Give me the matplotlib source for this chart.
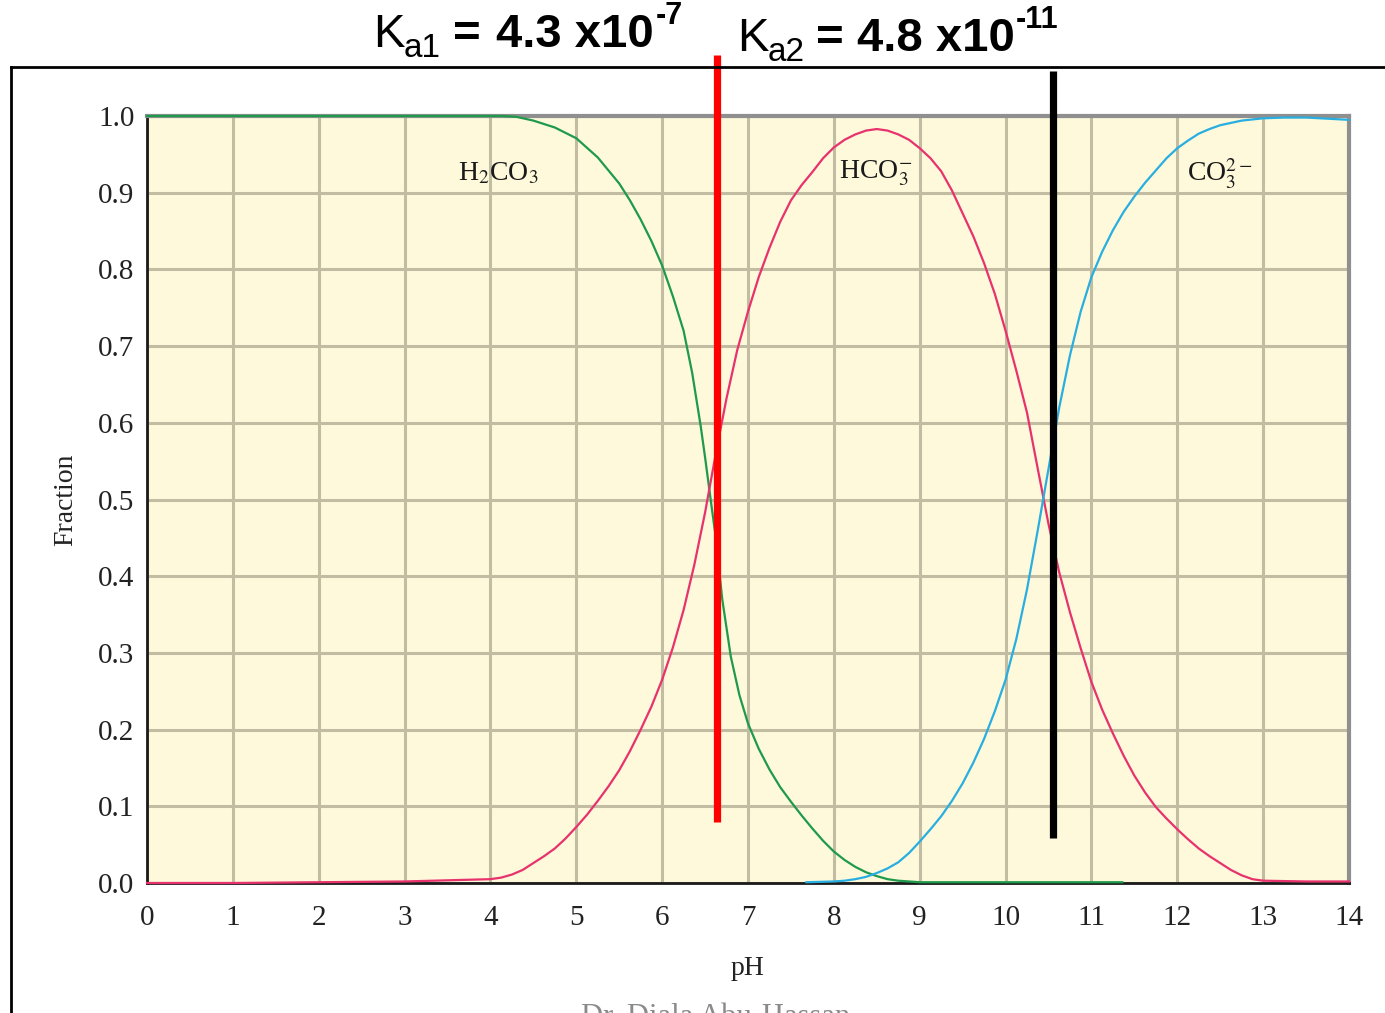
import matplotlib
matplotlib.use("Agg")
import matplotlib.pyplot as plt
from matplotlib.lines import Line2D

# ---------------- data ----------------
ph_h2co3 = [0, 4.0, 4.15, 4.3, 4.5, 4.75, 5.0, 5.25, 5.5, 5.625, 5.75, 5.875, 6.0,
            6.125, 6.25, 6.35, 6.45, 6.5, 6.565, 6.625, 6.7, 6.8, 6.9, 7.0, 7.125,
            7.25, 7.375, 7.5, 7.625, 7.75, 7.875, 8.0, 8.125, 8.25, 8.375, 8.5,
            8.625, 8.75, 9.0, 11.36]
frac_h2co3 = [1.0, 1.0, 1.0, 0.999, 0.994, 0.985, 0.971, 0.946, 0.912, 0.89, 0.865,
              0.837, 0.805, 0.765, 0.72, 0.665, 0.595, 0.555, 0.5, 0.45, 0.37,
              0.295, 0.245, 0.208, 0.175, 0.148, 0.125, 0.106, 0.088, 0.071, 0.055,
              0.041, 0.03, 0.021, 0.014, 0.009, 0.005, 0.003, 0.001, 0.001]

ph_hco3 = [0, 1, 2, 3, 4.0, 4.125, 4.25, 4.375, 4.5, 4.625, 4.75, 4.875, 5.0, 5.125,
           5.25, 5.375, 5.5, 5.625, 5.75, 5.875, 6.0, 6.125, 6.25, 6.375, 6.5,
           6.625, 6.75, 6.875, 7.0, 7.125, 7.25, 7.375, 7.5, 7.625, 7.75, 7.875,
           8.0, 8.125, 8.25, 8.375, 8.5, 8.625, 8.75, 8.875, 9.0, 9.125, 9.25,
           9.375, 9.5, 9.625, 9.75, 9.875, 10.0, 10.125, 10.25, 10.375, 10.5,
           10.625, 10.75, 10.875, 11.0, 11.125, 11.25, 11.375, 11.5, 11.625,
           11.75, 11.875, 12.0, 12.125, 12.25, 12.375, 12.5, 12.625, 12.75,
           12.875, 13.0, 13.5, 14.0]
frac_hco3 = [0.0, 0.0, 0.001, 0.002, 0.005, 0.007, 0.011, 0.017, 0.026, 0.035,
             0.045, 0.058, 0.073, 0.089, 0.107, 0.126, 0.147, 0.172, 0.2, 0.23,
             0.265, 0.307, 0.356, 0.415, 0.483, 0.56, 0.632, 0.695, 0.745, 0.79,
             0.828, 0.862, 0.89, 0.91, 0.927, 0.945, 0.959, 0.969, 0.976, 0.981,
             0.983, 0.981, 0.976, 0.969, 0.958, 0.945, 0.928, 0.903, 0.873, 0.843,
             0.808, 0.768, 0.72, 0.668, 0.613, 0.54, 0.468, 0.405, 0.353, 0.306,
             0.262, 0.226, 0.195, 0.166, 0.14, 0.118, 0.099, 0.084, 0.07, 0.057,
             0.045, 0.035, 0.026, 0.017, 0.01, 0.005, 0.003, 0.002, 0.002]

ph_co3 = [7.68, 8.0, 8.125, 8.25, 8.375, 8.5, 8.625, 8.75, 8.875, 9.0, 9.125, 9.25,
          9.375, 9.5, 9.625, 9.75, 9.875, 10.0, 10.125, 10.25, 10.375, 10.5,
          10.625, 10.75, 10.875, 11.0, 11.125, 11.25, 11.375, 11.5, 11.625, 11.75,
          11.875, 12.0, 12.125, 12.25, 12.375, 12.5, 12.75, 13.0, 13.25, 13.5, 14.0]
frac_co3 = [0.001, 0.002, 0.003, 0.005, 0.008, 0.013, 0.019, 0.027, 0.039, 0.054,
            0.07, 0.087, 0.107, 0.13, 0.157, 0.188, 0.224, 0.265, 0.318, 0.383,
            0.46, 0.54, 0.62, 0.688, 0.745, 0.79, 0.823, 0.851, 0.875, 0.895,
            0.913, 0.929, 0.945, 0.958, 0.968, 0.977, 0.983, 0.988, 0.994, 0.997,
            0.998, 0.998, 0.995]

species_labels = [r'H$_2$CO$_3$', r'HCO$_3^{-}$', r'CO$_3^{2-}$']
label_pos_ph = [4.09, 8.48, 12.5]
label_pos_frac = [0.925, 0.925, 0.925]

xticks = list(range(0, 15))
yticks = [0.0, 0.1, 0.2, 0.3, 0.4, 0.5, 0.6, 0.7, 0.8, 0.9, 1.0]
ytick_labels = ['0.0', '0.1', '0.2', '0.3', '0.4', '0.5', '0.6', '0.7', '0.8', '0.9', '1.0']

ka_symbol = ['K', 'K']
ka_subscript = ['a1', 'a2']
ka_mantissa = ['4.3 x10', '4.8 x10']
ka_exponent = ['-7', '-11']

marker_ph = [6.64, 10.55]
marker_top = [1.0795, 1.0587]
marker_bottom = [0.0795, 0.0587]
marker_colors = ['#ff0000', '#000000']

# ---------------- style ----------------
sans = ['Liberation Sans', 'DejaVu Sans']
serif = ['Liberation Serif', 'DejaVu Serif']
plt.rcParams['font.family'] = serif

W, H = 1385, 1013
fig = plt.figure(figsize=(W / 100, H / 100), dpi=100)
fig.patch.set_facecolor('white')

ax = fig.add_axes([147 / W, 1 - 883 / H, (1349 - 147) / W, (883 - 116) / H])
ax.set_facecolor('#fdf9da')
ax.set_xlim(0, 14)
ax.set_ylim(0, 1.0)

ax.set_xticks(xticks)
ax.set_xticklabels([str(t) for t in xticks])
ax.set_yticks(yticks)
ax.set_yticklabels(ytick_labels)
ax.tick_params(axis='both', length=0, labelsize=21, labelcolor='#222222')
ax.tick_params(axis='x', pad=16)
ax.tick_params(axis='y', pad=9)
ax.grid(True, color='#c2bca3', linewidth=2.2)
ax.set_axisbelow(True)

for s in ['left', 'bottom']:
    ax.spines[s].set_color('#1a1a1a')
    ax.spines[s].set_linewidth(2.0)
for s in ['top', 'right']:
    ax.spines[s].set_color('#8f8f8f')
    ax.spines[s].set_linewidth(3.0)

ax.plot(ph_h2co3, frac_h2co3, color='#1f9a4c', lw=1.6, clip_on=False, zorder=3)
ax.plot(ph_hco3, frac_hco3, color='#e8326e', lw=1.6, clip_on=False, zorder=3)
ax.plot(ph_co3, frac_co3, color='#28aee0', lw=1.6, clip_on=False, zorder=3)

for lab, x, y in zip(species_labels, label_pos_ph, label_pos_frac):
    ax.text(x, y, lab, fontsize=20, ha='center', va='center', color='#1a1a1a',
            math_fontfamily='stix', zorder=4)

for x, top, bot, c in zip(marker_ph, marker_top, marker_bottom, marker_colors):
    ax.plot([x, x], [bot, top], color=c, lw=5.2, solid_capstyle='butt',
            clip_on=False, zorder=5)

ax.set_xlabel('pH', fontsize=20, color='#222222', labelpad=18)
ax.set_ylabel('Fraction', fontsize=20, color='#222222', labelpad=14)

# ---------------- title pieces (pixel layout) ----------------
def ftext(px, py, s, size, weight='normal'):
    fig.text(px / W, 1 - py / H, s, fontsize=size, fontweight=weight,
             family=sans, ha='left', va='baseline', color='black')

title_x = [(373, 404, 453, 496, 656), (737, 768, 816, 857, 1016)]
title_base = [(47, 57, 24), (51, 61, 28)]
for i in range(2):
    xk, xs, xe, xm, xx = title_x[i]
    bk, bs, bx = title_base[i]
    ftext(xk, bk, ka_symbol[i], 34)
    ftext(xs, bs, ka_subscript[i], 24)
    ftext(xe, bk, '=', 34, 'bold')
    ftext(xm, bk, ka_mantissa[i], 34, 'bold')
    ftext(xx, bx, ka_exponent[i], 22, 'bold')

# slide frame
fig.add_artist(Line2D([11 / W, 1.0], [1 - 67 / H, 1 - 67 / H], color='black', lw=2.0,
                      transform=fig.transFigure))
fig.add_artist(Line2D([11 / W, 11 / W], [0, 1 - 67 / H], color='black', lw=2.0,
                      transform=fig.transFigure))

# footer (partly cut off, as on the slide)
fig.text(716 / W, -0.012, 'Dr. Diala Abu-Hassan', fontsize=22, ha='center',
         va='baseline', color='#8a8a8a')

fig.savefig('out.png', dpi=100)
